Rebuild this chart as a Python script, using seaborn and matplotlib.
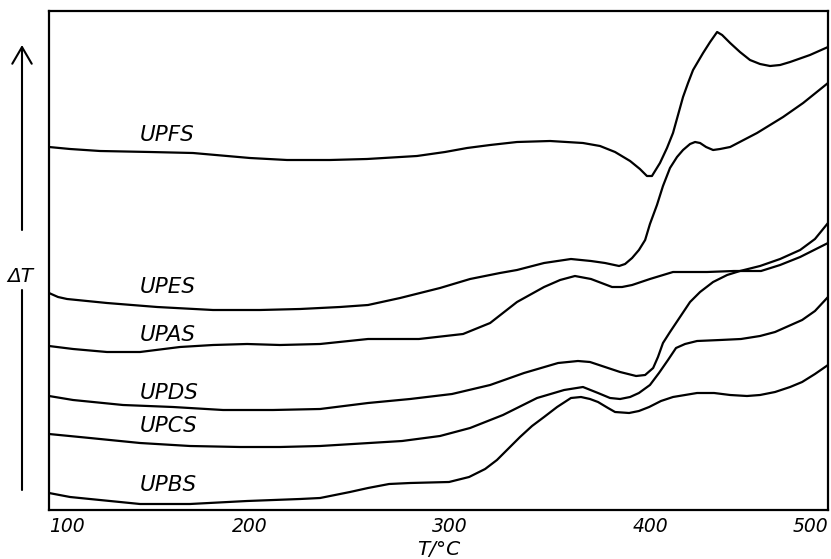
import matplotlib
matplotlib.use("Agg")
import matplotlib.pyplot as plt
import numpy as np
import pandas as pd
import seaborn as sns

# ---------------- data ----------------
# temperature T in degC, Delta T in arbitrary units
upfs_T = [100.0, 110.5, 125.4, 150.4, 171.8, 200.2, 218.7, 240.1, 258.6, 283.5, 297.5, 308.5,
          320.0, 333.4, 349.9, 366.3, 374.8, 382.3, 389.8, 394.7, 398.2, 400.7, 404.7, 408.2,
          411.2, 413.7, 416.2, 418.7, 421.2, 426.2, 429.7, 433.2, 435.7, 439.7, 444.6, 449.6,
          454.6, 459.6, 464.6, 469.6, 479.5, 488.5]
upfs_dT = [363, 361, 359, 358, 357, 352, 350, 350, 351, 354, 358, 362,
           365, 368, 369, 367, 364, 358, 349, 341, 334, 334, 347, 362,
           377, 395, 413, 427, 440, 457, 468, 478, 475, 467, 458, 450,
           446, 444, 445, 448, 455, 463]

upes_T = [100.0, 104.5, 109.0, 128.9, 153.9, 181.8, 205.2, 225.2, 245.1, 259.1, 275.1, 295.0,
          310.0, 324.9, 333.4, 346.9, 360.3, 370.3, 377.3, 384.3, 387.3, 390.8, 394.2, 397.3,
          399.7, 403.2, 406.2, 409.7, 413.2, 416.2, 419.7, 422.2, 424.7, 427.7, 431.2, 434.7,
          439.7, 453.1, 466.1, 476.1, 488.5]
upes_dT = [217, 213, 211, 207, 203, 200, 200, 201, 203, 205, 212, 222,
           231, 237, 240, 247, 251, 249, 247, 244, 246, 252, 260, 270,
           286, 305, 324, 342, 353, 360, 366, 368, 367, 363, 360, 361,
           363, 377, 393, 407, 427]

upas_T = [100.0, 112.0, 128.9, 145.4, 165.3, 181.8, 198.8, 215.2, 235.2, 259.1, 284.5, 306.5,
          320.0, 333.4, 346.9, 354.9, 362.3, 370.3, 380.8, 385.8, 390.8, 399.7, 411.2, 428.2,
          441.6, 455.1, 464.6, 474.6, 488.5]
upas_dT = [164, 161, 158, 158, 163, 165, 166, 165, 166, 171, 171, 176,
           187, 208, 223, 230, 234, 231, 223, 223, 225, 231, 238, 238,
           239, 239, 245, 253, 267]

upds_T = [100.0, 112.0, 136.9, 161.8, 186.8, 211.7, 235.2, 259.1, 280.1, 301.0, 320.0, 336.9,
          353.9, 363.8, 369.8, 377.3, 384.8, 392.8, 397.3, 401.3, 403.7, 406.2, 409.7, 414.7,
          419.7, 424.7, 431.2, 438.2, 444.6, 454.6, 464.6, 474.6, 482.0, 488.5]
upds_dT = [114, 110, 105, 103, 100, 100, 101, 107, 111, 116, 125, 137,
           147, 149, 148, 143, 138, 134, 135, 142, 153, 167, 178, 193,
           208, 218, 228, 235, 239, 244, 251, 260, 271, 287]

upcs_T = [100.0, 120.4, 145.4, 170.3, 195.3, 215.2, 235.2, 276.1, 295.0, 310.0, 326.4, 343.4,
          356.9, 366.3, 373.8, 379.8, 384.8, 389.8, 394.2, 399.7, 404.2, 408.7, 412.7, 417.2,
          423.2, 434.7, 445.1, 454.6, 462.1, 475.6, 482.0, 488.5]
upcs_dT = [76, 72, 67, 64, 63, 63, 64, 69, 74, 82, 95, 112,
           120, 123, 117, 112, 111, 113, 117, 125, 137, 150, 162, 166,
           169, 170, 171, 174, 178, 190, 199, 213]

upbs_T = [100.0, 110.5, 120.4, 145.4, 170.3, 198.8, 225.2, 235.2, 250.1, 259.1, 269.6, 280.1,
          299.5, 309.5, 317.5, 323.4, 329.9, 334.9, 340.9, 346.9, 353.4, 360.3, 365.3, 369.8,
          373.8, 378.8, 382.3, 389.3, 394.2, 399.3, 405.2, 411.2, 423.2, 431.7, 439.7, 448.1,
          454.6, 462.1, 469.6, 475.6, 482.0, 488.5]
upbs_dT = [17, 13, 11, 6, 6, 9, 11, 12, 18, 22, 26, 27,
           28, 33, 41, 50, 63, 73, 84, 93, 103, 112, 113, 111,
           108, 102, 98, 97, 99, 103, 109, 113, 117, 117, 115, 114,
           115, 118, 123, 128, 136, 145]

sample_names = ["UPFS", "UPES", "UPAS", "UPDS", "UPCS", "UPBS"]
tick_values = [100, 200, 300, 400, 500]
tick_labels = ["100", "200", "300", "400", "500"]
x_label = "T/°C"
y_label = "ΔT"

series = {
    "UPFS": (upfs_T, upfs_dT),
    "UPES": (upes_T, upes_dT),
    "UPAS": (upas_T, upas_dT),
    "UPDS": (upds_T, upds_dT),
    "UPCS": (upcs_T, upcs_dT),
    "UPBS": (upbs_T, upbs_dT),
}
df = pd.concat(
    [pd.DataFrame({"T": series[n][0], "dT": series[n][1], "sample": n}) for n in sample_names],
    ignore_index=True,
)

# ---------------- layout / style ----------------
X_MIN, X_MAX = 100, 488.5
Y_MIN, Y_MAX = 0, 499
label_pos = {  # (T, dT) where each curve name is written
    "UPFS": (145.4, 377), "UPES": (145.4, 225), "UPAS": (145.4, 177),
    "UPDS": (145.4, 119), "UPCS": (145.4, 86), "UPBS": (145.4, 27),
}

sns.set_style("white")
plt.rcParams["font.family"] = ["DejaVu Sans"]
plt.rcParams["text.color"] = "black"
plt.rcParams["xtick.color"] = "black"
plt.rcParams["axes.labelcolor"] = "black"

W, H = 831, 559
fig = plt.figure(figsize=(W / 100, H / 100), dpi=100)
ax = fig.add_axes([49 / W, (H - 510) / H, (828 - 49) / W, (510 - 11) / H])

sns.lineplot(data=df, x="T", y="dT", units="sample", estimator=None, sort=False,
             color="black", linewidth=1.6, ax=ax, legend=False,
             solid_joinstyle="round", solid_capstyle="round")

ax.set_xlim(X_MIN, X_MAX)
ax.set_ylim(Y_MIN, Y_MAX)
ax.set_yticks([])
ax.set_ylabel("")

pos = [min(v, X_MAX) for v in tick_values]
ax.set_xticks(pos)
ax.set_xticklabels(tick_labels, fontsize=13.5, style="italic", color="black")
tl = ax.get_xticklabels()
tl[0].set_horizontalalignment("left")
tl[-1].set_horizontalalignment("right")
ax.tick_params(axis="x", direction="in", length=14, width=1.5, pad=5, colors="black")
ax.set_xlabel(x_label, fontsize=14.5, style="italic", labelpad=3, color="black")

for s in ax.spines.values():
    s.set_visible(True)
    s.set_color("black")
    s.set_linewidth(1.6)

for n in sample_names:
    tx, ty = label_pos[n]
    ax.text(tx, ty, n, fontsize=15.5, style="italic", ha="left", va="center_baseline",
            color="black")

# Delta T axis indicator (arrow at the left, outside the frame)
ax.annotate("", xy=(22, H - 45), xytext=(22, H - 230), xycoords="figure pixels",
            textcoords="figure pixels",
            arrowprops=dict(arrowstyle="->,head_length=0.6,head_width=0.35",
                            lw=1.5, color="black", mutation_scale=20,
                            shrinkA=0, shrinkB=0))
ax.annotate("", xy=(22, H - 290), xytext=(22, H - 490), xycoords="figure pixels",
            textcoords="figure pixels",
            arrowprops=dict(arrowstyle="-", lw=1.5, color="black", shrinkA=0, shrinkB=0))
fig.text(20 / W, (H - 274) / H, y_label, fontsize=14.5, style="italic",
         ha="center", va="center_baseline", color="black")

fig.savefig("out.png", dpi=100)
